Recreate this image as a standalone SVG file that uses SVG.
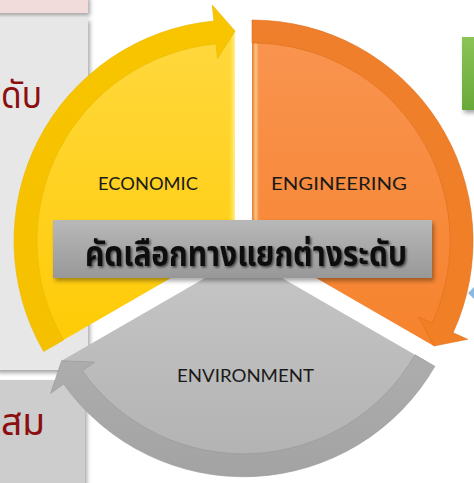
<svg xmlns="http://www.w3.org/2000/svg" width="474" height="483" viewBox="0 0 474 483">
<defs>
<style>
.lbl{font-family:Lato,"Open Sans","Liberation Sans",sans-serif;font-size:18px;fill:#1a1a1a}
.thai{font-family:"Noto Sans Thai","Noto Sans","DejaVu Sans",sans-serif}
.red{fill:#8c0f0f;font-size:38px}
</style>
<linearGradient id="gY" x1="0" y1="0" x2="0" y2="1"><stop offset="0" stop-color="#ffd83e"/><stop offset="1" stop-color="#ffcb05"/></linearGradient>
<linearGradient id="gYb" x1="0" y1="0" x2="0" y2="1"><stop offset="0" stop-color="#f8c500"/><stop offset="1" stop-color="#f5c000"/></linearGradient>
<linearGradient id="gO" x1="0" y1="0" x2="0" y2="1"><stop offset="0" stop-color="#f99450"/><stop offset="1" stop-color="#f6832d"/></linearGradient>
<linearGradient id="gOb" x1="0" y1="0" x2="0" y2="1"><stop offset="0" stop-color="#ef7f2c"/><stop offset="1" stop-color="#f17f25"/></linearGradient>
<linearGradient id="gG" x1="0" y1="0" x2="0" y2="1"><stop offset="0" stop-color="#c6c6c6"/><stop offset="1" stop-color="#b2b2b2"/></linearGradient>
<linearGradient id="gGb" x1="0" y1="0" x2="0" y2="1"><stop offset="0" stop-color="#adadad"/><stop offset="1" stop-color="#a3a3a3"/></linearGradient>
<linearGradient id="gBox" x1="0" y1="0" x2="0" y2="1"><stop offset="0" stop-color="#b8b8b8"/><stop offset="1" stop-color="#989898"/></linearGradient>
<linearGradient id="gGreen" x1="0" y1="0" x2="0" y2="1"><stop offset="0" stop-color="#8bc457"/><stop offset="1" stop-color="#69a93a"/></linearGradient>
<linearGradient id="hlY" x1="0" y1="0" x2="1" y2="0"><stop offset="0" stop-color="#ffd21a" stop-opacity="0"/><stop offset="1" stop-color="#fff28c"/></linearGradient>
<linearGradient id="hlO" x1="0" y1="0" x2="1" y2="0"><stop offset="0" stop-color="#e57a30"/><stop offset="0.5" stop-color="#fcc98a"/><stop offset="1" stop-color="#f7893a" stop-opacity="0"/></linearGradient>
<filter id="sh" x="-10%" y="-10%" width="130%" height="140%"><feDropShadow dx="2" dy="3" stdDeviation="2" flood-color="#000" flood-opacity="0.35"/></filter>
<filter id="tsh" x="-5%" y="-20%" width="110%" height="150%"><feDropShadow dx="1.5" dy="1.5" stdDeviation="1.2" flood-color="#000" flood-opacity="0.6"/></filter>
</defs>
<rect width="474" height="483" fill="#fff"/>
<g id="panels">
<rect x="-5" y="-5" width="93" height="18" fill="#f2dcdb" filter="url(#sh)"/>
<rect x="-5" y="18" width="93" height="352" fill="#e7e7e7" filter="url(#sh)"/>
<rect x="-5" y="380" width="90" height="110" fill="#cdcdcd" filter="url(#sh)"/>
<text class="thai red" x="1" y="108" textLength="41" lengthAdjust="spacingAndGlyphs">ดับ</text>
<text class="thai red" x="1" y="435" textLength="44" lengthAdjust="spacingAndGlyphs">สม</text>
<rect x="462" y="37" width="20" height="73" fill="url(#gGreen)" filter="url(#sh)"/>
<path d="M474,287 L468,293 L474,299 Z" fill="#8db8e0"/>
</g>
<g id="node-economic">
<path d="M235,241 L53.1,346 A210,210 0 0 1 235,31 Z" fill="url(#gY)"/>
<path d="M235,31 L235,241 L227,237 L227,44 Z" fill="url(#hlY)"/>
<text class="lbl" x="98" y="190" textLength="100" lengthAdjust="spacingAndGlyphs">ECONOMIC</text>
</g>
<g id="node-engineering">
<path d="M252,241 L252,31 A210,210 0 0 1 433.9,346 Z" fill="url(#gO)"/>
<path d="M252,43 L260,43 L260,245 L252,241 Z" fill="url(#hlO)"/>
<text class="lbl" x="271" y="190" textLength="136" lengthAdjust="spacingAndGlyphs">ENGINEERING</text>
</g>
<g id="node-environment">
<path d="M243.5,255.8 L425.4,360.8 A210,210 0 0 1 61.6,360.8 Z" fill="url(#gG)"/>
<text class="lbl" x="177" y="382" textLength="137" lengthAdjust="spacingAndGlyphs">ENVIRONMENT</text>
</g>
<g id="connectors">
<path d="M43.6,351.5 A221,221 0 0 1 213.8,21 L212.3,5.1 L235,31 L217.5,58.8 L216,43.9 A198,198 0 0 0 63.5,340 Z" fill="url(#gYb)" stroke="#e9b800" stroke-width="0.6"/>
<path d="M252,20 A221,221 0 0 1 453.1,332.7 L467.7,339.3 L433.9,346 L418.5,316.9 L432.2,323.1 A198,198 0 0 0 252,43 Z" fill="url(#gOb)" stroke="#dc6e1c" stroke-width="0.6"/>
<path d="M434.9,366.3 A221,221 0 0 1 63.6,384.1 L50.6,393.4 L61.6,360.8 L94.5,362.1 L82.3,370.8 A198,198 0 0 0 415,354.8 Z" fill="url(#gGb)" stroke="#979797" stroke-width="0.6"/>
</g>
<g id="node-center">
<rect x="53" y="220" width="379" height="58" fill="url(#gBox)" filter="url(#sh)"/>
<text class="thai" x="85" y="266" font-size="36" font-weight="bold" fill="#111" textLength="322" lengthAdjust="spacingAndGlyphs" filter="url(#tsh)">คัดเลือกทางแยกต่างระดับ</text>
</g>
</svg>
